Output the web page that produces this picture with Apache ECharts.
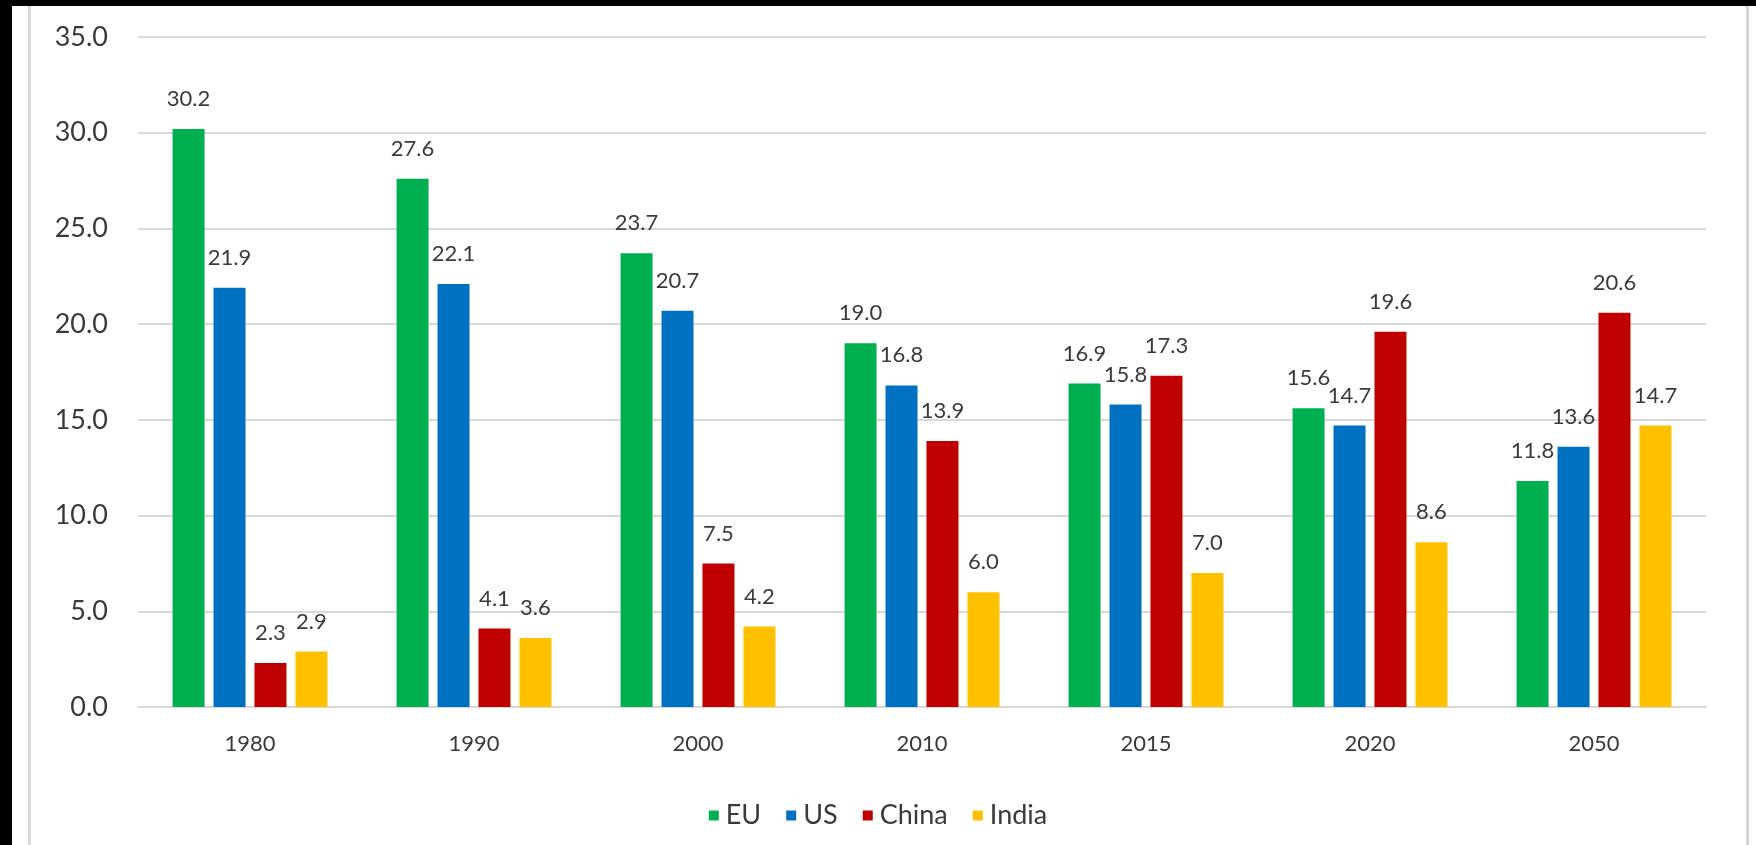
<!DOCTYPE html>
<html>
<head>
<meta charset="utf-8">
<script src="https://cdn.jsdelivr.net/npm/echarts@6/dist/echarts.min.js"></script>
<style>
html,body{margin:0;padding:0;background:#fff;}
#chart{width:1756px;height:845px;}
</style>
</head>
<body>
<div id="chart"></div>
<script>
const categories = ['1980', '1990', '2000', '2010', '2015', '2020', '2050'];
const seriesNames = ['EU', 'US', 'China', 'India'];
const euValues = [30.2, 27.6, 23.7, 19.0, 16.9, 15.6, 11.8];
const usValues = [21.9, 22.1, 20.7, 16.8, 15.8, 14.7, 13.6];
const chinaValues = [2.3, 4.1, 7.5, 13.9, 17.3, 19.6, 20.6];
const indiaValues = [2.9, 3.6, 4.2, 6.0, 7.0, 8.6, 14.7];
const colors = ['#00B050', '#0070C0', '#C00000', '#FFC000'];
const yMin = 0, yMax = 35, yStep = 5;

const FONT = 'Lato, "Noto Sans", sans-serif';
const TXT = '#3a3a3a';
const values = [euValues, usValues, chinaValues, indiaValues];

const chart = echarts.init(document.getElementById('chart'));
chart.setOption({
  animation: false,
  backgroundColor: '#ffffff',
  textStyle: { fontFamily: FONT },
  graphic: [
    { type: 'rect', shape: { x: 0, y: 0, width: 1756, height: 6 }, style: { fill: '#000' }, silent: true },
    { type: 'rect', shape: { x: 0, y: 0, width: 12, height: 845 }, style: { fill: '#000' }, silent: true },
    { type: 'rect', shape: { x: 28, y: 6, width: 3, height: 839 }, style: { fill: '#d6d6d6' }, silent: true },
    { type: 'rect', shape: { x: 1746, y: 6, width: 3, height: 839 }, style: { fill: '#d6d6d6' }, silent: true }
  ],
  grid: { left: 138, right: 50, top: 37, bottom: 138, containLabel: false },
  legend: {
    data: seriesNames,
    left: 'center',
    top: 797,
    icon: 'rect',
    itemWidth: 10,
    itemHeight: 10,
    itemGap: 25,
    textStyle: { color: TXT, fontSize: 27, fontFamily: FONT, padding: [0, 0, 0, 2] }
  },
  xAxis: {
    type: 'category',
    data: categories,
    axisTick: { show: false },
    axisLine: { show: true, lineStyle: { color: '#d9d9d9', width: 2 } },
    axisLabel: { color: TXT, fontSize: 22, margin: 26, fontFamily: FONT }
  },
  yAxis: {
    type: 'value',
    min: yMin,
    max: yMax,
    interval: yStep,
    axisLine: { show: false },
    axisTick: { show: false },
    splitLine: { lineStyle: { color: '#d9d9d9', width: 2 } },
    axisLabel: {
      color: TXT, fontSize: 27, margin: 30, fontFamily: FONT,
      formatter: v => v.toFixed(1)
    }
  },
  series: seriesNames.map((name, i) => ({
    name: name,
    type: 'bar',
    data: values[i],
    barWidth: 32,
    barGap: '28%',
    itemStyle: { color: colors[i] },
    label: {
      show: true,
      position: 'top',
      distance: 19,
      color: TXT,
      fontSize: 22,
      fontFamily: FONT,
      formatter: p => p.value.toFixed(1)
    }
  }))
});
</script>
</body>
</html>
